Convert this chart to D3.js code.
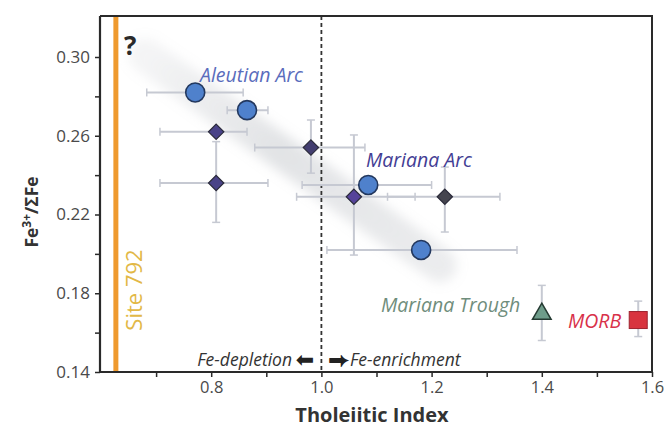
<!DOCTYPE html>
<html>
<head>
<meta charset="utf-8">
<script src="https://cdn.jsdelivr.net/npm/d3@7"></script>
<style>
  body { margin: 0; background: #fff; }
  svg { display: block; font-family: "Open Sans", sans-serif; }
</style>
</head>
<body>
<svg id="chart" width="666" height="427"></svg>
<script>
// arc samples: circles
const circleX   = [0.771, 0.865, 1.085, 1.181];
const circleY   = [0.282, 0.273, 0.235, 0.202];
const circleXLo = [0.683, 0.829, 0.965, 1.010];
const circleXHi = [0.858, 0.903, 1.200, 1.355];

// arc samples: diamonds
const diamondX   = [0.809, 0.809, 0.981, 1.059, 1.224];
const diamondY   = [0.262, 0.236, 0.254, 0.229, 0.229];
const diamondXLo = [0.707, 0.707, 0.879, 0.955, 1.120];
const diamondXHi = [0.865, 0.903, 1.079, 1.170, 1.324];
const diamondYLo = [0.262, 0.216, 0.241, 0.1994, 0.2111];
const diamondYHi = [0.262, 0.257, 0.268, 0.2604, 0.2441];

// back-arc / ridge
const troughPt = [1.40, 0.1700, 0.156, 0.184];
const morbPt   = [1.575, 0.1664, 0.158, 0.176];

// trend band and site line
const bandX = [0.680, 1.215];
const bandY = [0.3010, 0.1943];
const siteX = 0.627;
const depletionX = 1.0;

const xTicks = [0.8, 1.0, 1.2, 1.4, 1.6];
const xMinor = [0.7, 0.9, 1.1, 1.3, 1.5];
const yTicks = [0.14, 0.18, 0.22, 0.26, 0.30];
const yMinor = [0.16, 0.20, 0.24, 0.28];

const svg = d3.select('#chart');
const L = 100, R = 652, T = 16, B = 372;

const x = d3.scaleLinear().domain([0.6, 1.6]).range([101, 652]);
const y = d3.scaleLinear().domain([0.14, 0.30]).range([372, 57]);

const defs = svg.append('defs');
defs.append('filter').attr('id', 'blur')
  .attr('x', '-20%').attr('y', '-20%').attr('width', '140%').attr('height', '140%')
  .append('feGaussianBlur').attr('stdDeviation', 6);
const grad = defs.append('linearGradient').attr('id', 'bandGrad')
  .attr('gradientUnits', 'userSpaceOnUse')
  .attr('x1', x(bandX[0])).attr('y1', y(bandY[0]))
  .attr('x2', x(bandX[1])).attr('y2', y(bandY[1]));
grad.append('stop').attr('offset', '0%').attr('stop-color', '#a4a9b0').attr('stop-opacity', 0.12);
grad.append('stop').attr('offset', '45%').attr('stop-color', '#a4a9b0').attr('stop-opacity', 0.32);
grad.append('stop').attr('offset', '100%').attr('stop-color', '#a4a9b0').attr('stop-opacity', 0.22);

// trend band
svg.append('line')
  .attr('x1', x(bandX[0])).attr('y1', y(bandY[0]))
  .attr('x2', x(bandX[1])).attr('y2', y(bandY[1]))
  .attr('stroke', 'url(#bandGrad)').attr('stroke-width', 34)
  .attr('stroke-linecap', 'round')
  .attr('filter', 'url(#blur)');

// site 792 line
svg.append('line')
  .attr('x1', x(siteX)).attr('x2', x(siteX)).attr('y1', T).attr('y2', B)
  .attr('stroke', '#ef9a2e').attr('stroke-width', 5);

svg.append('text')
  .attr('transform', `translate(${x(siteX) + 26},${290}) rotate(-90)`)
  .attr('text-anchor', 'middle')
  .attr('fill', '#e2b846').attr('font-size', 22)
  .text('Site 792');

// dashed divider
svg.append('line')
  .attr('x1', x(depletionX)).attr('x2', x(depletionX)).attr('y1', T).attr('y2', B)
  .attr('stroke', '#333').attr('stroke-width', 1.8).attr('stroke-dasharray', '4,3');

// error bars
const errCol = '#c6c9d2';
function hbar(x0, x1, yv) {
  svg.append('line').attr('x1', x(x0)).attr('x2', x(x1)).attr('y1', y(yv)).attr('y2', y(yv))
    .attr('stroke', errCol).attr('stroke-width', 2);
  [x0, x1].forEach(v => svg.append('line').attr('x1', x(v)).attr('x2', x(v))
    .attr('y1', y(yv) - 4).attr('y2', y(yv) + 4).attr('stroke', errCol).attr('stroke-width', 1.5));
}
function vbar(xv, y0, y1) {
  if (y0 === y1) return;
  svg.append('line').attr('x1', x(xv)).attr('x2', x(xv)).attr('y1', y(y0)).attr('y2', y(y1))
    .attr('stroke', errCol).attr('stroke-width', 2);
  [y0, y1].forEach(v => svg.append('line').attr('x1', x(xv) - 4).attr('x2', x(xv) + 4)
    .attr('y1', y(v)).attr('y2', y(v)).attr('stroke', errCol).attr('stroke-width', 1.5));
}

diamondX.forEach((d, i) => { hbar(diamondXLo[i], diamondXHi[i], diamondY[i]); vbar(d, diamondYLo[i], diamondYHi[i]); });
circleX.forEach((d, i) => hbar(circleXLo[i], circleXHi[i], circleY[i]));
vbar(troughPt[0], troughPt[2], troughPt[3]);
vbar(morbPt[0], morbPt[2], morbPt[3]);

// diamonds
const diamondFill = ['#4a4388', '#4a4388', '#433e70', '#56439a', '#45454f'];
svg.selectAll('path.dia')
  .data(diamondX)
  .enter().append('path')
  .attr('class', 'dia')
  .attr('d', d3.symbol(d3.symbolDiamond2, 150))
  .attr('transform', (d, i) => `translate(${x(d)},${y(diamondY[i])})`)
  .attr('fill', (d, i) => diamondFill[i])
  .attr('stroke', '#2b2b3a').attr('stroke-width', 1.2);

// circles
svg.selectAll('circle.arc')
  .data(circleX)
  .enter().append('circle')
  .attr('class', 'arc')
  .attr('cx', d => x(d))
  .attr('cy', (d, i) => y(circleY[i]))
  .attr('r', 9.5)
  .attr('fill', '#4f81cc')
  .attr('stroke', '#23385e').attr('stroke-width', 1.6);

// trough triangle
svg.append('path')
  .attr('d', d3.symbol(d3.symbolTriangle, 150))
  .attr('transform', `translate(${x(troughPt[0])},${y(troughPt[1]) + 1})`)
  .attr('fill', '#6e9c8a').attr('stroke', '#253a32').attr('stroke-width', 1.5);

// morb square
svg.append('rect')
  .attr('x', x(morbPt[0]) - 9).attr('y', y(morbPt[1]) - 8.5)
  .attr('width', 18).attr('height', 17)
  .attr('fill', '#d8343f').attr('stroke', '#9e2430').attr('stroke-width', 1);

// labels
const lab = (t, xx, yy, col, size) => svg.append('text')
  .attr('x', xx).attr('y', yy).attr('fill', col)
  .attr('font-size', size).attr('font-style', 'italic').text(t);
lab('Aleutian Arc', 200, 82, '#5a6cbc', 19.5);
lab('Mariana Arc', 366, 167, '#433d94', 19.5);
lab('Mariana Trough', 381, 312, '#6f8d7c', 19.5);
lab('MORB', 568, 328, '#d8314a', 19.5);

svg.append('text').attr('x', 124).attr('y', 55).attr('font-size', 26)
  .attr('font-weight', 'bold').attr('fill', '#2a2a2a').text('?');

svg.append('text').attr('x', 292).attr('y', 366).attr('text-anchor', 'end')
  .attr('font-size', 17.5).attr('font-style', 'italic').attr('fill', '#333').text('Fe-depletion');
svg.append('text').attr('x', 350).attr('y', 366)
  .attr('font-size', 17.5).attr('font-style', 'italic').attr('fill', '#333').text('Fe-enrichment');
svg.append('text').attr('x', 305).attr('y', 367).attr('text-anchor', 'middle')
  .attr('font-family', '"DejaVu Sans"').attr('font-size', 22).attr('fill', '#222').text('\u2B05');
svg.append('text').attr('x', 339).attr('y', 367).attr('text-anchor', 'middle')
  .attr('font-family', '"DejaVu Sans"').attr('font-size', 22).attr('fill', '#222').text('\u2B95');

// frame
svg.append('path')
  .attr('d', `M${L},${T}H${R}V${B}`)
  .attr('fill', 'none').attr('stroke', '#2a2a2a').attr('stroke-width', 2);

// axes
const xAxis = svg.append('g').attr('transform', `translate(0,${B})`)
  .call(d3.axisBottom(x).tickValues(xTicks).tickFormat(d3.format('.1f')).tickSize(5).tickPadding(4));
svg.append('g').attr('transform', `translate(0,${B})`)
  .call(d3.axisBottom(x).tickValues(xMinor).tickFormat('').tickSize(5))
  .call(g => g.selectAll('text').remove())
  .select('.domain').remove();
const yAxis = svg.append('g').attr('transform', `translate(${L},0)`)
  .call(d3.axisLeft(y).tickValues(yTicks).tickFormat(d3.format('.2f')).tickSize(5).tickPadding(5));
svg.append('g').attr('transform', `translate(${L},0)`)
  .call(d3.axisLeft(y).tickValues(yMinor).tickFormat('').tickSize(5))
  .call(g => g.selectAll('text').remove())
  .select('.domain').remove();

xAxis.select('.domain').attr('d', `M${L},0H${R}`).attr('stroke', '#2a2a2a').attr('stroke-width', 2.2);
yAxis.select('.domain').attr('d', `M0,${T}V${B}`).attr('stroke', '#2a2a2a').attr('stroke-width', 2.2);
svg.selectAll('.tick line').attr('stroke', '#2a2a2a').attr('stroke-width', 1.5);
svg.selectAll('.tick text').attr('font-family', '"Open Sans", sans-serif')
  .attr('font-size', 17).attr('fill', '#4a4a4a');
xAxis.selectAll('.tick text').attr('font-size', 16.5);

svg.append('text').attr('x', 372).attr('y', 422).attr('text-anchor', 'middle')
  .attr('font-size', 20).attr('font-weight', 'bold').attr('fill', '#333').text('Tholeiitic Index');

const yl = svg.append('text').attr('transform', 'translate(38,212) rotate(-90)')
  .attr('text-anchor', 'middle').attr('font-size', 17.5).attr('font-weight', 'bold').attr('fill', '#333');
yl.append('tspan').text('Fe');
yl.append('tspan').attr('font-size', 12).attr('dy', -7).text('3+');
yl.append('tspan').attr('dy', 7).text('/\u03A3Fe');
</script>
</body>
</html>
